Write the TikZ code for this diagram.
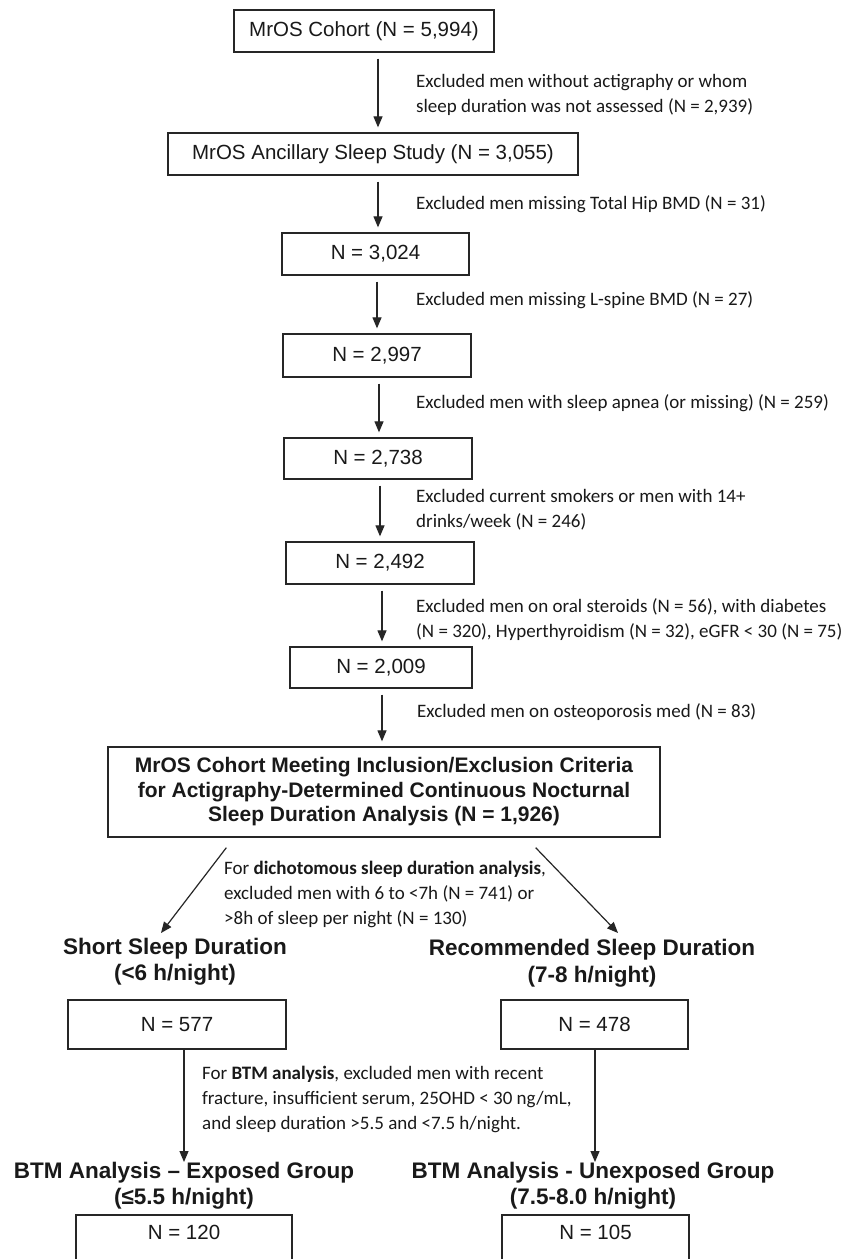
\documentclass[tikz,border=0pt]{standalone}
\usepackage{fontspec}
\setmainfont{Liberation Sans}
\newfontfamily\calib{Carlito}
\usepackage{tikz}
\usetikzlibrary{arrows.meta, positioning, calc}

\begin{document}
\begin{tikzpicture}[x=1pt, y=-1pt]
		\tikzstyle{box}=[draw=black!85, line width=1.3pt, inner sep=0pt, text=black!90, font=\fontsize{20.5}{24}\selectfont]
		\tikzstyle{critbox}=[box, align=center, font=\bfseries\fontsize{21}{24.5}\selectfont]
		\tikzstyle{head}=[inner sep=0pt, align=center, text=black!90, font=\bfseries\fontsize{22.5}{26.5}\selectfont]
		\tikzstyle{note}=[inner sep=0pt, anchor=west, align=left, text=black!90, font=\calib\fontsize{19}{25}\selectfont]
		\tikzstyle{arr}=[draw=black!85, line width=1.2pt, -{Triangle[length=11pt, width=9pt]}]
		
		\clip (0,0) rectangle (856,1259);
		\fill[white] (0,0) rectangle (856,1259);
		
		%% main column
		\node [box, minimum width=260pt, minimum height=42pt] (C0) at (364,31) {MrOS Cohort (N = 5,994)};
		\node [box, minimum width=410pt, minimum height=42pt] (S0) at (373,154) {MrOS Ancillary Sleep Study (N = 3,055)};
		\node [box, minimum width=187pt, minimum height=42pt] (N1) at (375.5,254) {N = 3,024};
		\node [box, minimum width=188pt, minimum height=43pt] (N2) at (377,355.5) {N = 2,997};
		\node [box, minimum width=188pt, minimum height=41pt] (N3) at (378,458.5) {N = 2,738};
		\node [box, minimum width=188pt, minimum height=42pt] (N4) at (380,563) {N = 2,492};
		\node [box, minimum width=182pt, minimum height=41pt] (N5) at (381,667.5) {N = 2,009};
		\node [critbox, minimum width=552pt, minimum height=90pt] (Crit) at (384,792) {MrOS Cohort Meeting Inclusion/Exclusion Criteria\\for Actigraphy-Determined Continuous Nocturnal\\Sleep Duration Analysis (N = 1,926)};
		
		\foreach \a/\b/\x in {C0/S0/378, S0/N1/378, N1/N2/377, N2/N3/379, N3/N4/380, N4/N5/382, N5/Crit/382}
		\draw [arr, shorten <=6pt, shorten >=5pt] (\a.south -| \x,0) -- (\b.north -| \x,0);
		
		%% exclusion notes
		\node [note] (ex1) at (416,94.5) {Excluded men without actigraphy or whom\\sleep duration was not assessed (N = 2,939)};
		\node [note] (ex2) at (416,204) {Excluded men missing Total Hip BMD (N = 31)};
		\node [note] (ex3) at (416,300) {Excluded men missing L-spine BMD (N = 27)};
		\node [note] (ex4) at (416,403) {Excluded men with sleep apnea (or missing) (N = 259)};
		\node [note] (ex5) at (416,509.5) {Excluded current smokers or men with 14+\\drinks/week (N = 246)};
		\node [note] (ex6) at (416,619.5) {Excluded men on oral steroids (N = 56), with diabetes\\(N = 320), Hyperthyroidism (N = 32), eGFR < 30 (N = 75)};
		\node [note] (ex7) at (417,712) {Excluded men on osteoporosis med (N = 83)};
		
		%% split
		\node [note] (ex8) at (224,894.5) {For \textbf{dichotomous sleep duration analysis},\\excluded men with 6 to <7h (N = 741) or\\>8h of sleep per night (N = 130)};
		\node [head] (Short) at (175,961.5) {Short Sleep Duration\\(<6 h/night)};
		\node [head] (Rec) at (592,963) {Recommended Sleep Duration\\(7-8 h/night)};
		\coordinate (sL) at (161,933);
		\coordinate (sR) at (618,933);
		\draw [arr] ([xshift=119pt, yshift=-10pt]Crit.south west) -- (sL);
		\draw [arr] ([xshift=-125pt, yshift=-10pt]Crit.south east) -- (sR);
		
		\node [box, minimum width=218pt, minimum height=49pt] (nShort) at (177,1024.5) {N = 577};
		\node [box, minimum width=187pt, minimum height=49pt] (nRec) at (594.5,1024.5) {N = 478};
		
		%% BTM
		\node [note] (ex9) at (202,1099.5) {For \textbf{BTM analysis}, excluded men with recent\\fracture, insufficient serum, 25OHD < 30 ng/mL,\\and sleep duration >5.5 and <7.5 h/night.};
		\node [head] (Exp) at (184,1185.5) {BTM Analysis -- Exposed Group\\(≤5.5 h/night)};
		\node [head] (Unexp) at (593,1185.5) {BTM Analysis - Unexposed Group\\(7.5-8.0 h/night)};
		\coordinate (eL) at (184,1162);
		\coordinate (eR) at (595,1162);
		\draw [arr] (nShort.south -| eL) -- (eL);
		\draw [arr] (nRec.south -| eR) -- (eR);
		
		\node [box, minimum width=216pt, minimum height=49pt, text depth=0pt] (nExp) at (184,1239.5) {};
		\node [anchor=north, inner sep=0pt, font=\fontsize{20.5}{24}\selectfont, text=black!90] (tExp) at (184,1225) {N = 120};
		\node [box, minimum width=187pt, minimum height=49pt] (nUnexp) at (595.5,1239.5) {};
		\node [anchor=north, inner sep=0pt, font=\fontsize{20.5}{24}\selectfont, text=black!90] (tUnexp) at (595.5,1225) {N = 105};
\end{tikzpicture}
\end{document}
